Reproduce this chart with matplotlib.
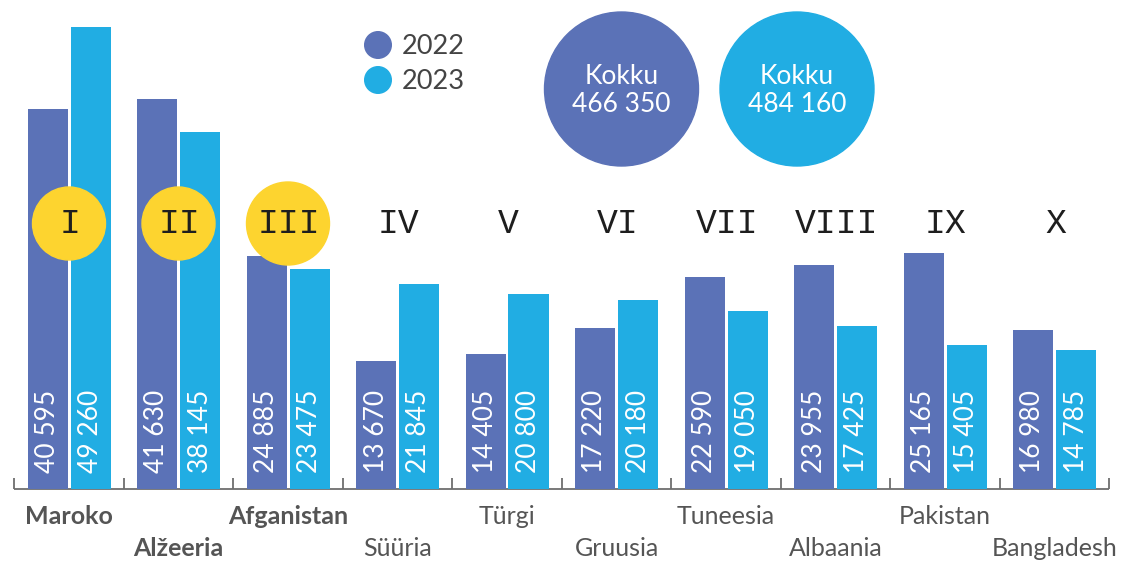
import matplotlib
matplotlib.use("Agg")
import matplotlib.pyplot as plt
from matplotlib.patches import Circle

# Top-10 citizenship groups, first residence permits
countries = ["Maroko", "Alžeeria", "Afganistan", "Süüria", "Türgi",
             "Gruusia", "Tuneesia", "Albaania", "Pakistan", "Bangladesh"]
ranks = ["I", "II", "III", "IV", "V", "VI", "VII", "VIII", "IX", "X"]
values_2022 = [40595, 41630, 24885, 13670, 14405, 17220, 22590, 23955, 25165, 16980]
values_2023 = [49260, 38145, 23475, 21845, 20800, 20180, 19050, 17425, 15405, 14785]
years = ["2022", "2023"]
totals = [466350, 484160]
highlighted = 3  # number of leading groups marked in yellow

C22 = "#5b72b7"
C23 = "#21ade3"
YELLOW = "#fdd42f"
GREY = "#555555"

W, H = 1121, 561
fig = plt.figure(figsize=(W / 100, H / 100), dpi=100)
plt.rcParams["font.family"] = ["Lato", "DejaVu Sans"]

# Main axes: x in group units, y in values; mapped to the canvas pixels
X0, DX = 69.0, 109.5          # pixel centre of first group, pixel step
BASE, PPU = 489.0, 0.00937    # baseline pixel row, pixels per unit
ax = fig.add_axes([0, 0, 1, 1])
ax.set_xlim(-X0 / DX, (W - X0) / DX)
ax.set_ylim((BASE - H) / PPU, BASE / PPU)
ax.axis("off")

fmt = lambda v: f"{v:,}".replace(",", " ")
off = 21.5 / DX
bw = 40 / DX
xs = list(range(len(countries)))
ax.bar([x - off for x in xs], values_2022, width=bw, color=C22, zorder=2)
ax.bar([x + off for x in xs], values_2023, width=bw, color=C23, zorder=2)

lab_y = 16 / PPU
for x, a, b in zip(xs, values_2022, values_2023):
    for xx, v in ((x - off, a), (x + off, b)):
        ax.text(xx, lab_y, fmt(v), rotation=90, ha="center", va="bottom",
                color="white", fontsize=19, zorder=3)

# Baseline with separating ticks
ax.plot([-0.5, len(countries) - 0.5], [0, 0], color="#6e6e6e", lw=1.3, zorder=1,
        solid_capstyle="butt")
ax.vlines([k - 0.5 for k in range(len(countries) + 1)], 0, 11 / PPU,
          color="#6e6e6e", lw=1.3, zorder=1)

# Country names, staggered on two rows
for i, (x, name) in enumerate(zip(xs, countries)):
    ypix = 516 if i % 2 == 0 else 548
    ax.text(x, (BASE - ypix) / PPU, name, ha="center", va="center",
            fontsize=18, color=GREY,
            fontweight="bold" if i < highlighted else "normal")

# Overlay in pixel coordinates for circles and legend
ov = fig.add_axes([0, 0, 1, 1])
ov.set_xlim(0, W)
ov.set_ylim(H, 0)
ov.axis("off")
ov.patch.set_alpha(0)

for i, r in enumerate(ranks):
    cx = X0 + DX * i
    if i < highlighted:
        rad = 41.5 if i == 2 else 36.5
        ov.add_patch(Circle((cx, 223.5), rad, color=YELLOW, zorder=2))
    ov.text(cx + 1, 223, r, ha="center", va="center", fontsize=25,
            family=["Liberation Mono", "DejaVu Sans Mono"],
            color="#1e1e1e", zorder=3)

# Legend
for ypix, lbl, col in ((45, years[0], C22), (80, years[1], C23)):
    ov.add_patch(Circle((378, ypix), 13.3, color=col))
    ov.text(402, ypix + 1, lbl, ha="left", va="center", fontsize=19.5,
            color="#444444")

# Totals
for cx, tot, col in ((621.5, totals[0], C22), (797, totals[1], C23)):
    ov.add_patch(Circle((cx, 89), 77, color=col))
    ov.text(cx, 76, "Kokku", ha="center", va="center", fontsize=19, color="white")
    ov.text(cx, 104, fmt(tot), ha="center", va="center", fontsize=19, color="white")

fig.savefig("out.png", dpi=100)
